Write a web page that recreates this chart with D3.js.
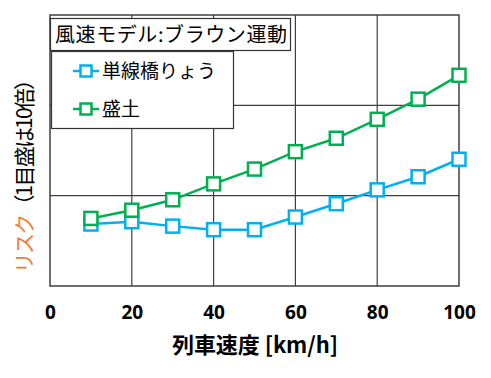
<!DOCTYPE html>
<html>
<head>
<meta charset="utf-8">
<script src="https://cdn.jsdelivr.net/npm/d3@7"></script>
<style>
  body { margin: 0; background: #fff; }
  text { font-family: "Noto Sans CJK JP", "Noto Sans", sans-serif; }
</style>
</head>
<body>
<div id="chart"></div>
<script>
// x values (train speed, km/h)
const speeds = [10, 20, 30, 40, 50, 60, 70, 80, 90, 100];
// risk values on a log scale (each gridline = x10)
const bridgeRisk = [4.85, 5.15, 4.6, 4.2, 4.2, 5.8, 8.15, 11.6, 16.2, 25.3];
const embankRisk = [5.6, 6.9, 9.0, 13.5, 19.7, 30.7, 43.2, 70, 117, 215];
const seriesNames = ['単線橋りょう', '盛土'];
const seriesColors = ['#00B0F0', '#00B050'];
const xTicks = [0, 20, 40, 60, 80, 100];
const yTicks = [1, 10, 100, 1000];

const width = 491, height = 378;
const margin = {top: 15, right: 32, bottom: 92, left: 50};
const innerW = width - margin.left - margin.right;
const innerH = height - margin.top - margin.bottom;

const svg = d3.select('#chart').append('svg')
    .attr('width', width)
    .attr('height', height);

const g = svg.append('g')
    .attr('transform', `translate(${margin.left},${margin.top})`);

const x = d3.scaleLinear().domain([0, 100]).range([0, innerW]);
const y = d3.scaleLog().domain([1, 1000]).range([innerH, 0]);

// gridlines
g.append('g').selectAll('line.vg')
    .data(xTicks.slice(1, -1))
  .join('line')
    .attr('x1', d => x(d)).attr('x2', d => x(d))
    .attr('y1', 0).attr('y2', innerH)
    .attr('stroke', '#404040').attr('stroke-width', 1.2);

g.append('g').selectAll('line.hg')
    .data(yTicks.slice(1, -1))
  .join('line')
    .attr('x1', 0).attr('x2', innerW)
    .attr('y1', d => y(d)).attr('y2', d => y(d))
    .attr('stroke', '#404040').attr('stroke-width', 1.2);

// frame
g.append('rect')
    .attr('width', innerW).attr('height', innerH)
    .attr('fill', 'none')
    .attr('stroke', '#333').attr('stroke-width', 1.4);

// x axis (labels only)
const xAxis = d3.axisBottom(x).tickValues(xTicks).tickSize(0).tickPadding(20);
const xAxisG = g.append('g')
    .attr('transform', `translate(0,${innerH})`)
    .call(xAxis);
xAxisG.select('.domain').remove();
xAxisG.selectAll('text')
    .attr('font-size', 19)
    .attr('font-weight', 'bold')
    .attr('fill', '#000')
    .style('font-family', '"Open Sans", sans-serif');

// series
const series = [bridgeRisk, embankRisk];
const line = d3.line()
    .x((d, i) => x(speeds[i]))
    .y(d => y(d));
const mk = 13;

series.forEach((vals, k) => {
  g.append('path')
      .datum(vals)
      .attr('d', line)
      .attr('fill', 'none')
      .attr('stroke', seriesColors[k])
      .attr('stroke-width', 2.5);
  g.append('g').selectAll('rect')
      .data(vals)
    .join('rect')
      .attr('x', (d, i) => x(speeds[i]) - mk / 2)
      .attr('y', d => y(d) - mk / 2)
      .attr('width', mk).attr('height', mk)
      .attr('fill', '#fff')
      .attr('stroke', seriesColors[k])
      .attr('stroke-width', 2.5);
});

// title box
svg.append('rect')
    .attr('x', 50.5).attr('y', 18.5)
    .attr('width', 240).attr('height', 32)
    .attr('fill', '#fff').attr('stroke', '#333').attr('stroke-width', 1.2);
svg.append('text')
    .attr('x', 55).attr('y', 42)
    .attr('font-size', 20)
    .attr('textLength', 232)
    .text('風速モデル:ブラウン運動');

// legend box
svg.append('rect')
    .attr('x', 51.5).attr('y', 51.5)
    .attr('width', 182).attr('height', 77)
    .attr('fill', '#fff').attr('stroke', '#333').attr('stroke-width', 1.2);

const legend = svg.append('g');
seriesNames.forEach((name, k) => {
  const ly = 71 + k * 38;
  legend.append('line')
      .attr('x1', 73).attr('x2', 99)
      .attr('y1', ly).attr('y2', ly)
      .attr('stroke', seriesColors[k]).attr('stroke-width', 2.5);
  legend.append('rect')
      .attr('x', 86 - 5.5).attr('y', ly - 5.5)
      .attr('width', 11).attr('height', 11)
      .attr('fill', '#fff')
      .attr('stroke', seriesColors[k]).attr('stroke-width', 2.5);
  legend.append('text')
      .attr('x', 102).attr('y', ly + 7)
      .attr('font-size', 19)
      .text(name);
});

// x axis title
svg.append('text')
    .attr('x', 255).attr('y', 353)
    .attr('text-anchor', 'middle')
    .attr('font-size', 22)
    .attr('font-weight', 'bold')
    .attr('textLength', 166)
    .text('列車速度 [km/h]');

// y axis title
const yTitle = svg.append('text')
    .attr('transform', 'translate(32,172) rotate(-90)')
    .attr('text-anchor', 'middle')
    .attr('font-size', 21)
    .attr('letter-spacing', -1.8);
yTitle.append('tspan').attr('fill', '#ED7D31').text('リスク');
yTitle.append('tspan').attr('fill', '#000').text('（1目盛は10倍）');
</script>
</body>
</html>
